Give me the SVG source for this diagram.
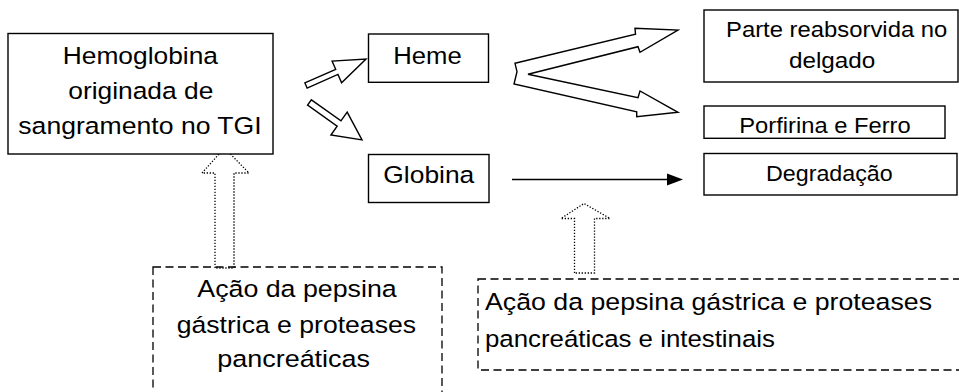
<svg xmlns="http://www.w3.org/2000/svg" width="959" height="392" viewBox="0 0 959 392">
<style>
.box{fill:#fff;stroke:#000;stroke-width:1.4}
.dash{fill:none;stroke:#000;stroke-width:1.3;stroke-dasharray:8 4.5}
.dot{fill:#fff;stroke:#000;stroke-width:1.3;stroke-dasharray:1.3 1.7}
.hollow{fill:#fff;stroke:#000;stroke-width:1.4;stroke-linejoin:miter}
text{font-family:"Liberation Sans",Arial,sans-serif;fill:#000}
.t23{font-size:24.5px}
.t20{font-size:21.5px}
</style>
<rect width="959" height="392" fill="#fff"/>
<g id="connectors">
  <polygon class="hollow" transform="translate(306,85.5) rotate(-23.8)" points="0,-2.8 33.7,-2.8 33.7,-11.8 65.6,0 33.7,11.8 33.7,2.8 0,2.8"/>
  <polygon class="hollow" transform="translate(309.5,102.5) rotate(35.5)" points="0,-3.3 36.3,-3.3 36.3,-14 64.5,0 36.3,14 36.3,3.3 0,3.3"/>
  <polygon class="hollow" points="515,63.3 635.5,34.3 635,28.3 678,30 640,52.3 638,46.7 528,74.3 638,97.7 640,91 678,112.3 636.7,116.7 636.7,111.7 514,84 517,71.7"/>
  <line x1="512" y1="179.5" x2="668" y2="179.5" stroke="#000" stroke-width="1.4"/>
  <polygon points="667,173.5 683,179.5 667,185.5" fill="#000"/>
  <path class="dot" d="M215,268 L215,173 L202,173 L224.5,148 L249,173 L234,173 L234,268 Z"/>
  <path class="dot" d="M574.5,273 L574.5,218.5 L561,218.5 L584,203.5 L610,218.5 L594.5,218.5 L594.5,273 Z"/>
</g>
<g id="hemoglobina">
  <rect class="box" x="8" y="33.5" width="265" height="120.5"/>
  <text class="t23" x="62.7" y="64" textLength="155.3" lengthAdjust="spacingAndGlyphs">Hemoglobina</text>
  <text class="t23" x="68.3" y="99" textLength="145" lengthAdjust="spacingAndGlyphs">originada de</text>
  <text class="t23" x="18.3" y="134" textLength="243.4" lengthAdjust="spacingAndGlyphs">sangramento no TGI</text>
</g>
<g id="heme">
  <rect class="box" x="368.5" y="34" width="120" height="48.3"/>
  <text class="t23" x="393.3" y="64.3" textLength="68.4" lengthAdjust="spacingAndGlyphs">Heme</text>
</g>
<g id="globina">
  <rect class="box" x="368.5" y="154.5" width="120.5" height="48"/>
  <text class="t23" x="383.3" y="183.3" textLength="91" lengthAdjust="spacingAndGlyphs">Globina</text>
</g>
<g id="parte">
  <rect class="box" x="704" y="10" width="254" height="72"/>
  <text class="t20" x="726" y="36.7" textLength="221.3" lengthAdjust="spacingAndGlyphs">Parte reabsorvida no</text>
  <text class="t20" x="789" y="68" textLength="86.3" lengthAdjust="spacingAndGlyphs">delgado</text>
</g>
<g id="porfirina">
  <rect class="box" x="704" y="106" width="241" height="32.3"/>
  <text class="t20" x="739.3" y="132.5" textLength="171.4" lengthAdjust="spacingAndGlyphs">Porfirina e Ferro</text>
</g>
<g id="degradacao">
  <rect class="box" x="704" y="153.5" width="253" height="41.5"/>
  <text class="t20" x="766" y="180.5" textLength="126.7" lengthAdjust="spacingAndGlyphs">Degradação</text>
</g>
<g id="acao1">
  <rect class="dash" x="153" y="267" width="289" height="140"/>
  <text class="t23" x="197.3" y="297.3" textLength="199.4" lengthAdjust="spacingAndGlyphs">Ação da pepsina</text>
  <text class="t23" x="176.7" y="333" textLength="239.3" lengthAdjust="spacingAndGlyphs">gástrica e proteases</text>
  <text class="t23" x="217.3" y="367" textLength="152.7" lengthAdjust="spacingAndGlyphs">pancreáticas</text>
</g>
<g id="acao2">
  <rect class="dash" x="478" y="279" width="485" height="91"/>
  <text class="t23" x="485" y="310" textLength="447" lengthAdjust="spacingAndGlyphs">Ação da pepsina gástrica e proteases</text>
  <text class="t23" x="485" y="346.7" textLength="290" lengthAdjust="spacingAndGlyphs">pancreáticas e intestinais</text>
</g>
</svg>
